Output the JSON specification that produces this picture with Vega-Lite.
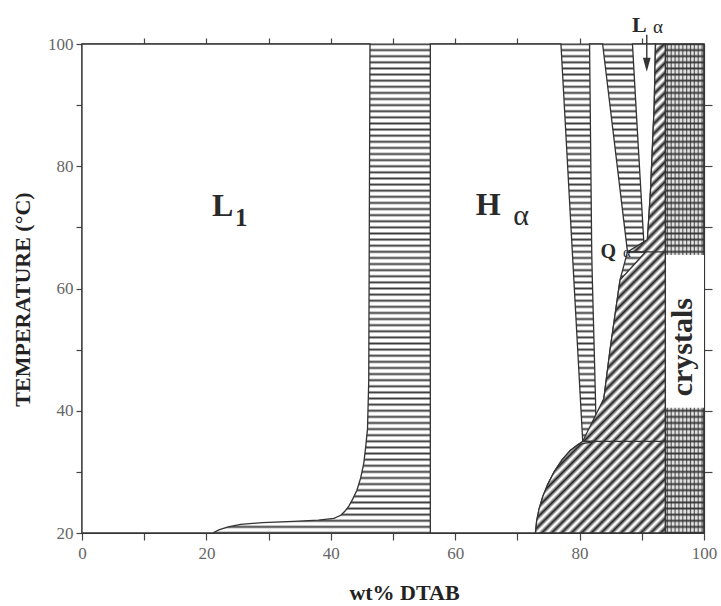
{
"$schema": "https://vega.github.io/schema/vega-lite/v6.json",
"width": 622, "height": 489,
"autosize": {"type": "none"},
"padding": {"left": 82, "top": 44, "right": 17, "bottom": 73},
"background": "white",
"config": {"view": {"stroke": null},
  "axis": {"grid": false, "domainColor": "#444", "tickColor": "#444", "domainWidth": 1.2, "tickWidth": 1.2,
    "labelFont": "Liberation Serif", "labelFontSize": 17, "labelColor": "#666", "labelFlush": false, "labelOverlap": false,
    "titleFont": "Liberation Serif", "titleColor": "#222", "titleFontWeight": "bold"}},
"resolve": {"axis": {"x": "independent", "y": "independent"}},
"datasets": {
 "white": [
  {"r":"L1","t":20,"a":0,"b":21.0},{"r":"L1","t":20.5,"a":0,"b":22.0},{"r":"L1","t":21.0,"a":0,"b":23.5},
  {"r":"L1","t":21.4,"a":0,"b":25.5},{"r":"L1","t":21.7,"a":0,"b":29.0},{"r":"L1","t":21.9,"a":0,"b":34.0},
  {"r":"L1","t":22.1,"a":0,"b":38.0},{"r":"L1","t":22.4,"a":0,"b":40.5},{"r":"L1","t":22.9,"a":0,"b":41.6},
  {"r":"L1","t":23.6,"a":0,"b":42.3},{"r":"L1","t":24.4,"a":0,"b":42.9},{"r":"L1","t":25.5,"a":0,"b":43.5},
  {"r":"L1","t":27.0,"a":0,"b":44.2},{"r":"L1","t":29.0,"a":0,"b":44.8},{"r":"L1","t":31.4,"a":0,"b":45.3},
  {"r":"L1","t":34.0,"a":0,"b":45.6},{"r":"L1","t":37.0,"a":0,"b":45.9},{"r":"L1","t":45.0,"a":0,"b":46.1},
  {"r":"L1","t":100,"a":0,"b":46.3},
  {"r":"H","t":20,"a":56,"b":72.9},{"r":"H","t":22,"a":56,"b":73.1},{"r":"H","t":24,"a":56,"b":73.5},
  {"r":"H","t":26,"a":56,"b":74.1},{"r":"H","t":28,"a":56,"b":74.9},{"r":"H","t":30,"a":56,"b":75.9},
  {"r":"H","t":32,"a":56,"b":77.2},{"r":"H","t":33.5,"a":56,"b":78.5},{"r":"H","t":34.5,"a":56,"b":79.8},
  {"r":"H","t":35,"a":56,"b":80.5},{"r":"H","t":100,"a":56,"b":77.0},
  {"r":"W","t":35,"a":82.7,"b":82.7},{"r":"W","t":42,"a":82.55,"b":83.9},{"r":"W","t":50,"a":82.35,"b":84.9},
  {"r":"W","t":61.4,"a":82.05,"b":86.5},{"r":"W","t":66,"a":81.95,"b":87.7},{"r":"W","t":100,"a":81.6,"b":83.7},
  {"r":"G","t":66,"a":90.4,"b":90.6},{"r":"G","t":68,"a":90.3,"b":90.9},{"r":"G","t":76,"a":89.85,"b":91.4},
  {"r":"G","t":90,"a":89.05,"b":92.0},{"r":"G","t":100,"a":88.5,"b":92.2}
 ],
 "diag": [
  {"t":20,"a":72.9,"b":93.8},{"t":22,"a":73.1,"b":93.8},{"t":24,"a":73.5,"b":93.8},{"t":26,"a":74.1,"b":93.8},
  {"t":28,"a":74.9,"b":93.8},{"t":30,"a":75.9,"b":93.8},{"t":32,"a":77.2,"b":93.8},{"t":33.5,"a":78.5,"b":93.8},
  {"t":34.5,"a":79.8,"b":93.8},{"t":35,"a":80.5,"b":93.8},{"t":35,"a":82.7,"b":93.8},{"t":42,"a":83.9,"b":93.8},
  {"t":50,"a":84.9,"b":93.8},{"t":61.4,"a":86.5,"b":93.8},{"t":66,"a":87.7,"b":93.8},{"t":66,"a":90.6,"b":93.8},
  {"t":68,"a":90.9,"b":93.8},{"t":76,"a":91.4,"b":93.8},{"t":90,"a":92.0,"b":93.8},{"t":100,"a":92.2,"b":93.8}
 ]
},
"layer": [
 {"data": {"values": [{"a": 0, "b": 100, "t0": 20, "t1": 100}]},
  "mark": {"type": "rect", "stroke": "#333", "strokeWidth": 1.2,
   "fill": {"gradient": "linear", "x1": 0, "y1": 0, "x2": 0, "y2": 1, "stops": [
{"offset":0,"color":"#3a3a3a"},{"offset":0.004,"color":"#fff"},
{"offset":0.0085,"color":"#fff"},{"offset":0.0125,"color":"#3a3a3a"},{"offset":0.0165,"color":"#fff"},
{"offset":0.021,"color":"#fff"},{"offset":0.025,"color":"#3a3a3a"},{"offset":0.029,"color":"#fff"},
{"offset":0.0335,"color":"#fff"},{"offset":0.0375,"color":"#3a3a3a"},{"offset":0.0415,"color":"#fff"},
{"offset":0.046,"color":"#fff"},{"offset":0.05,"color":"#3a3a3a"},{"offset":0.054,"color":"#fff"},
{"offset":0.0585,"color":"#fff"},{"offset":0.0625,"color":"#3a3a3a"},{"offset":0.0665,"color":"#fff"},
{"offset":0.071,"color":"#fff"},{"offset":0.075,"color":"#3a3a3a"},{"offset":0.079,"color":"#fff"},
{"offset":0.0835,"color":"#fff"},{"offset":0.0875,"color":"#3a3a3a"},{"offset":0.0915,"color":"#fff"},
{"offset":0.096,"color":"#fff"},{"offset":0.1,"color":"#3a3a3a"},{"offset":0.104,"color":"#fff"},
{"offset":0.1085,"color":"#fff"},{"offset":0.1125,"color":"#3a3a3a"},{"offset":0.1165,"color":"#fff"},
{"offset":0.121,"color":"#fff"},{"offset":0.125,"color":"#3a3a3a"},{"offset":0.129,"color":"#fff"},
{"offset":0.1335,"color":"#fff"},{"offset":0.1375,"color":"#3a3a3a"},{"offset":0.1415,"color":"#fff"},
{"offset":0.146,"color":"#fff"},{"offset":0.15,"color":"#3a3a3a"},{"offset":0.154,"color":"#fff"},
{"offset":0.1585,"color":"#fff"},{"offset":0.1625,"color":"#3a3a3a"},{"offset":0.1665,"color":"#fff"},
{"offset":0.171,"color":"#fff"},{"offset":0.175,"color":"#3a3a3a"},{"offset":0.179,"color":"#fff"},
{"offset":0.1835,"color":"#fff"},{"offset":0.1875,"color":"#3a3a3a"},{"offset":0.1915,"color":"#fff"},
{"offset":0.196,"color":"#fff"},{"offset":0.2,"color":"#3a3a3a"},{"offset":0.204,"color":"#fff"},
{"offset":0.2085,"color":"#fff"},{"offset":0.2125,"color":"#3a3a3a"},{"offset":0.2165,"color":"#fff"},
{"offset":0.221,"color":"#fff"},{"offset":0.225,"color":"#3a3a3a"},{"offset":0.229,"color":"#fff"},
{"offset":0.2335,"color":"#fff"},{"offset":0.2375,"color":"#3a3a3a"},{"offset":0.2415,"color":"#fff"},
{"offset":0.246,"color":"#fff"},{"offset":0.25,"color":"#3a3a3a"},{"offset":0.254,"color":"#fff"},
{"offset":0.2585,"color":"#fff"},{"offset":0.2625,"color":"#3a3a3a"},{"offset":0.2665,"color":"#fff"},
{"offset":0.271,"color":"#fff"},{"offset":0.275,"color":"#3a3a3a"},{"offset":0.279,"color":"#fff"},
{"offset":0.2835,"color":"#fff"},{"offset":0.2875,"color":"#3a3a3a"},{"offset":0.2915,"color":"#fff"},
{"offset":0.296,"color":"#fff"},{"offset":0.3,"color":"#3a3a3a"},{"offset":0.304,"color":"#fff"},
{"offset":0.3085,"color":"#fff"},{"offset":0.3125,"color":"#3a3a3a"},{"offset":0.3165,"color":"#fff"},
{"offset":0.321,"color":"#fff"},{"offset":0.325,"color":"#3a3a3a"},{"offset":0.329,"color":"#fff"},
{"offset":0.3335,"color":"#fff"},{"offset":0.3375,"color":"#3a3a3a"},{"offset":0.3415,"color":"#fff"},
{"offset":0.346,"color":"#fff"},{"offset":0.35,"color":"#3a3a3a"},{"offset":0.354,"color":"#fff"},
{"offset":0.3585,"color":"#fff"},{"offset":0.3625,"color":"#3a3a3a"},{"offset":0.3665,"color":"#fff"},
{"offset":0.371,"color":"#fff"},{"offset":0.375,"color":"#3a3a3a"},{"offset":0.379,"color":"#fff"},
{"offset":0.3835,"color":"#fff"},{"offset":0.3875,"color":"#3a3a3a"},{"offset":0.3915,"color":"#fff"},
{"offset":0.396,"color":"#fff"},{"offset":0.4,"color":"#3a3a3a"},{"offset":0.404,"color":"#fff"},
{"offset":0.4085,"color":"#fff"},{"offset":0.4125,"color":"#3a3a3a"},{"offset":0.4165,"color":"#fff"},
{"offset":0.421,"color":"#fff"},{"offset":0.425,"color":"#3a3a3a"},{"offset":0.429,"color":"#fff"},
{"offset":0.4335,"color":"#fff"},{"offset":0.4375,"color":"#3a3a3a"},{"offset":0.4415,"color":"#fff"},
{"offset":0.446,"color":"#fff"},{"offset":0.45,"color":"#3a3a3a"},{"offset":0.454,"color":"#fff"},
{"offset":0.4585,"color":"#fff"},{"offset":0.4625,"color":"#3a3a3a"},{"offset":0.4665,"color":"#fff"},
{"offset":0.471,"color":"#fff"},{"offset":0.475,"color":"#3a3a3a"},{"offset":0.479,"color":"#fff"},
{"offset":0.4835,"color":"#fff"},{"offset":0.4875,"color":"#3a3a3a"},{"offset":0.4915,"color":"#fff"},
{"offset":0.496,"color":"#fff"},{"offset":0.5,"color":"#3a3a3a"},{"offset":0.504,"color":"#fff"},
{"offset":0.5085,"color":"#fff"},{"offset":0.5125,"color":"#3a3a3a"},{"offset":0.5165,"color":"#fff"},
{"offset":0.521,"color":"#fff"},{"offset":0.525,"color":"#3a3a3a"},{"offset":0.529,"color":"#fff"},
{"offset":0.5335,"color":"#fff"},{"offset":0.5375,"color":"#3a3a3a"},{"offset":0.5415,"color":"#fff"},
{"offset":0.546,"color":"#fff"},{"offset":0.55,"color":"#3a3a3a"},{"offset":0.554,"color":"#fff"},
{"offset":0.5585,"color":"#fff"},{"offset":0.5625,"color":"#3a3a3a"},{"offset":0.5665,"color":"#fff"},
{"offset":0.571,"color":"#fff"},{"offset":0.575,"color":"#3a3a3a"},{"offset":0.579,"color":"#fff"},
{"offset":0.5835,"color":"#fff"},{"offset":0.5875,"color":"#3a3a3a"},{"offset":0.5915,"color":"#fff"},
{"offset":0.596,"color":"#fff"},{"offset":0.6,"color":"#3a3a3a"},{"offset":0.604,"color":"#fff"},
{"offset":0.6085,"color":"#fff"},{"offset":0.6125,"color":"#3a3a3a"},{"offset":0.6165,"color":"#fff"},
{"offset":0.621,"color":"#fff"},{"offset":0.625,"color":"#3a3a3a"},{"offset":0.629,"color":"#fff"},
{"offset":0.6335,"color":"#fff"},{"offset":0.6375,"color":"#3a3a3a"},{"offset":0.6415,"color":"#fff"},
{"offset":0.646,"color":"#fff"},{"offset":0.65,"color":"#3a3a3a"},{"offset":0.654,"color":"#fff"},
{"offset":0.6585,"color":"#fff"},{"offset":0.6625,"color":"#3a3a3a"},{"offset":0.6665,"color":"#fff"},
{"offset":0.671,"color":"#fff"},{"offset":0.675,"color":"#3a3a3a"},{"offset":0.679,"color":"#fff"},
{"offset":0.6835,"color":"#fff"},{"offset":0.6875,"color":"#3a3a3a"},{"offset":0.6915,"color":"#fff"},
{"offset":0.696,"color":"#fff"},{"offset":0.7,"color":"#3a3a3a"},{"offset":0.704,"color":"#fff"},
{"offset":0.7085,"color":"#fff"},{"offset":0.7125,"color":"#3a3a3a"},{"offset":0.7165,"color":"#fff"},
{"offset":0.721,"color":"#fff"},{"offset":0.725,"color":"#3a3a3a"},{"offset":0.729,"color":"#fff"},
{"offset":0.7335,"color":"#fff"},{"offset":0.7375,"color":"#3a3a3a"},{"offset":0.7415,"color":"#fff"},
{"offset":0.746,"color":"#fff"},{"offset":0.75,"color":"#3a3a3a"},{"offset":0.754,"color":"#fff"},
{"offset":0.7585,"color":"#fff"},{"offset":0.7625,"color":"#3a3a3a"},{"offset":0.7665,"color":"#fff"},
{"offset":0.771,"color":"#fff"},{"offset":0.775,"color":"#3a3a3a"},{"offset":0.779,"color":"#fff"},
{"offset":0.7835,"color":"#fff"},{"offset":0.7875,"color":"#3a3a3a"},{"offset":0.7915,"color":"#fff"},
{"offset":0.796,"color":"#fff"},{"offset":0.8,"color":"#3a3a3a"},{"offset":0.804,"color":"#fff"},
{"offset":0.8085,"color":"#fff"},{"offset":0.8125,"color":"#3a3a3a"},{"offset":0.8165,"color":"#fff"},
{"offset":0.821,"color":"#fff"},{"offset":0.825,"color":"#3a3a3a"},{"offset":0.829,"color":"#fff"},
{"offset":0.8335,"color":"#fff"},{"offset":0.8375,"color":"#3a3a3a"},{"offset":0.8415,"color":"#fff"},
{"offset":0.846,"color":"#fff"},{"offset":0.85,"color":"#3a3a3a"},{"offset":0.854,"color":"#fff"},
{"offset":0.8585,"color":"#fff"},{"offset":0.8625,"color":"#3a3a3a"},{"offset":0.8665,"color":"#fff"},
{"offset":0.871,"color":"#fff"},{"offset":0.875,"color":"#3a3a3a"},{"offset":0.879,"color":"#fff"},
{"offset":0.8835,"color":"#fff"},{"offset":0.8875,"color":"#3a3a3a"},{"offset":0.8915,"color":"#fff"},
{"offset":0.896,"color":"#fff"},{"offset":0.9,"color":"#3a3a3a"},{"offset":0.904,"color":"#fff"},
{"offset":0.9085,"color":"#fff"},{"offset":0.9125,"color":"#3a3a3a"},{"offset":0.9165,"color":"#fff"},
{"offset":0.921,"color":"#fff"},{"offset":0.925,"color":"#3a3a3a"},{"offset":0.929,"color":"#fff"},
{"offset":0.9335,"color":"#fff"},{"offset":0.9375,"color":"#3a3a3a"},{"offset":0.9415,"color":"#fff"},
{"offset":0.946,"color":"#fff"},{"offset":0.95,"color":"#3a3a3a"},{"offset":0.954,"color":"#fff"},
{"offset":0.9585,"color":"#fff"},{"offset":0.9625,"color":"#3a3a3a"},{"offset":0.9665,"color":"#fff"},
{"offset":0.971,"color":"#fff"},{"offset":0.975,"color":"#3a3a3a"},{"offset":0.979,"color":"#fff"},
{"offset":0.9835,"color":"#fff"},{"offset":0.9875,"color":"#3a3a3a"},{"offset":0.9915,"color":"#fff"},
{"offset":0.996,"color":"#fff"},{"offset":1,"color":"#3a3a3a"}
   ]}},
  "encoding": {
   "x": {"field": "a", "type": "quantitative", "scale": {"domain": [0, 100], "nice": false, "zero": false},
     "axis": {"orient": "bottom", "values": [0,10,20,30,40,50,60,70,80,90,100],
       "labelExpr": "datum.value % 20 === 0 ? datum.label : ''", "tickSize": 7, "labelPadding": 5,
       "title": "wt% DTAB", "titleFontSize": 22, "titleX": 322, "titleY": 66, "titleBaseline": "alphabetic", "titleAlign": "center"}},
   "x2": {"field": "b"},
   "y": {"field": "t0", "type": "quantitative", "scale": {"domain": [20, 100], "nice": false, "zero": false},
     "axis": {"orient": "left", "values": [20,30,40,50,60,70,80,90,100],
       "labelExpr": "datum.value % 20 === 0 ? datum.label : ''", "tickSize": 6, "labelPadding": 3,
       "title": "TEMPERATURE (°C)", "titleFontSize": 22, "titleX": -60, "titleY": 255, "titleAngle": 270,
       "titleAlign": "center", "titleBaseline": "middle"}},
   "y2": {"field": "t1"}}},

 {"data": {"name": "white"},
  "mark": {"type": "area", "orient": "horizontal", "fill": "#fff", "stroke": "#333", "strokeWidth": 1.3},
  "encoding": {
   "y": {"field": "t", "type": "quantitative", "axis": null},
   "x": {"field": "b", "type": "quantitative", "axis": null, "stack": null},
   "x2": {"field": "a"},
   "detail": {"field": "r"}}},

 {"data": {"name": "diag"},
  "mark": {"type": "area", "orient": "horizontal", "stroke": "#333", "strokeWidth": 1.3,
   "fill": {"gradient": "linear", "x1": 0, "y1": 0, "x2": 0.3143, "y2": 1.1823, "stops": [
{"offset":0,"color":"#222"},{"offset":0.007,"color":"#fff"},
{"offset":0.009,"color":"#fff"},{"offset":0.016,"color":"#222"},{"offset":0.023,"color":"#fff"},
{"offset":0.025,"color":"#fff"},{"offset":0.032,"color":"#222"},{"offset":0.039,"color":"#fff"},
{"offset":0.041,"color":"#fff"},{"offset":0.048,"color":"#222"},{"offset":0.055,"color":"#fff"},
{"offset":0.057,"color":"#fff"},{"offset":0.064,"color":"#222"},{"offset":0.071,"color":"#fff"},
{"offset":0.073,"color":"#fff"},{"offset":0.08,"color":"#222"},{"offset":0.087,"color":"#fff"},
{"offset":0.089,"color":"#fff"},{"offset":0.096,"color":"#222"},{"offset":0.103,"color":"#fff"},
{"offset":0.105,"color":"#fff"},{"offset":0.112,"color":"#222"},{"offset":0.119,"color":"#fff"},
{"offset":0.121,"color":"#fff"},{"offset":0.128,"color":"#222"},{"offset":0.135,"color":"#fff"},
{"offset":0.137,"color":"#fff"},{"offset":0.144,"color":"#222"},{"offset":0.151,"color":"#fff"},
{"offset":0.153,"color":"#fff"},{"offset":0.16,"color":"#222"},{"offset":0.167,"color":"#fff"},
{"offset":0.169,"color":"#fff"},{"offset":0.176,"color":"#222"},{"offset":0.183,"color":"#fff"},
{"offset":0.185,"color":"#fff"},{"offset":0.192,"color":"#222"},{"offset":0.199,"color":"#fff"},
{"offset":0.201,"color":"#fff"},{"offset":0.208,"color":"#222"},{"offset":0.215,"color":"#fff"},
{"offset":0.217,"color":"#fff"},{"offset":0.224,"color":"#222"},{"offset":0.231,"color":"#fff"},
{"offset":0.233,"color":"#fff"},{"offset":0.24,"color":"#222"},{"offset":0.247,"color":"#fff"},
{"offset":0.249,"color":"#fff"},{"offset":0.256,"color":"#222"},{"offset":0.263,"color":"#fff"},
{"offset":0.265,"color":"#fff"},{"offset":0.272,"color":"#222"},{"offset":0.279,"color":"#fff"},
{"offset":0.281,"color":"#fff"},{"offset":0.288,"color":"#222"},{"offset":0.295,"color":"#fff"},
{"offset":0.297,"color":"#fff"},{"offset":0.304,"color":"#222"},{"offset":0.311,"color":"#fff"},
{"offset":0.313,"color":"#fff"},{"offset":0.32,"color":"#222"},{"offset":0.327,"color":"#fff"},
{"offset":0.329,"color":"#fff"},{"offset":0.336,"color":"#222"},{"offset":0.343,"color":"#fff"},
{"offset":0.345,"color":"#fff"},{"offset":0.352,"color":"#222"},{"offset":0.359,"color":"#fff"},
{"offset":0.361,"color":"#fff"},{"offset":0.368,"color":"#222"},{"offset":0.375,"color":"#fff"},
{"offset":0.377,"color":"#fff"},{"offset":0.384,"color":"#222"},{"offset":0.391,"color":"#fff"},
{"offset":0.393,"color":"#fff"},{"offset":0.4,"color":"#222"},{"offset":0.407,"color":"#fff"},
{"offset":0.409,"color":"#fff"},{"offset":0.416,"color":"#222"},{"offset":0.423,"color":"#fff"},
{"offset":0.425,"color":"#fff"},{"offset":0.432,"color":"#222"},{"offset":0.439,"color":"#fff"},
{"offset":0.441,"color":"#fff"},{"offset":0.448,"color":"#222"},{"offset":0.455,"color":"#fff"},
{"offset":0.457,"color":"#fff"},{"offset":0.464,"color":"#222"},{"offset":0.471,"color":"#fff"},
{"offset":0.473,"color":"#fff"},{"offset":0.48,"color":"#222"},{"offset":0.487,"color":"#fff"},
{"offset":0.489,"color":"#fff"},{"offset":0.496,"color":"#222"},{"offset":0.503,"color":"#fff"},
{"offset":0.505,"color":"#fff"},{"offset":0.512,"color":"#222"},{"offset":0.519,"color":"#fff"},
{"offset":0.521,"color":"#fff"},{"offset":0.528,"color":"#222"},{"offset":0.535,"color":"#fff"},
{"offset":0.537,"color":"#fff"},{"offset":0.544,"color":"#222"},{"offset":0.551,"color":"#fff"},
{"offset":0.553,"color":"#fff"},{"offset":0.56,"color":"#222"},{"offset":0.567,"color":"#fff"},
{"offset":0.569,"color":"#fff"},{"offset":0.576,"color":"#222"},{"offset":0.583,"color":"#fff"},
{"offset":0.585,"color":"#fff"},{"offset":0.592,"color":"#222"},{"offset":0.599,"color":"#fff"},
{"offset":0.601,"color":"#fff"},{"offset":0.608,"color":"#222"},{"offset":0.615,"color":"#fff"},
{"offset":0.617,"color":"#fff"},{"offset":0.624,"color":"#222"},{"offset":0.631,"color":"#fff"},
{"offset":0.633,"color":"#fff"},{"offset":0.64,"color":"#222"},{"offset":0.647,"color":"#fff"},
{"offset":0.649,"color":"#fff"},{"offset":0.656,"color":"#222"},{"offset":0.663,"color":"#fff"},
{"offset":0.665,"color":"#fff"},{"offset":0.672,"color":"#222"},{"offset":0.679,"color":"#fff"},
{"offset":0.681,"color":"#fff"},{"offset":0.688,"color":"#222"},{"offset":0.695,"color":"#fff"},
{"offset":0.697,"color":"#fff"},{"offset":0.704,"color":"#222"},{"offset":0.711,"color":"#fff"},
{"offset":0.713,"color":"#fff"},{"offset":0.72,"color":"#222"},{"offset":0.727,"color":"#fff"},
{"offset":0.729,"color":"#fff"},{"offset":0.736,"color":"#222"},{"offset":0.743,"color":"#fff"},
{"offset":0.745,"color":"#fff"},{"offset":0.752,"color":"#222"},{"offset":0.759,"color":"#fff"},
{"offset":0.761,"color":"#fff"},{"offset":0.768,"color":"#222"},{"offset":0.775,"color":"#fff"},
{"offset":0.777,"color":"#fff"},{"offset":0.784,"color":"#222"},{"offset":0.791,"color":"#fff"},
{"offset":0.793,"color":"#fff"},{"offset":0.8,"color":"#222"},{"offset":0.807,"color":"#fff"},
{"offset":0.809,"color":"#fff"},{"offset":0.816,"color":"#222"},{"offset":0.823,"color":"#fff"},
{"offset":0.825,"color":"#fff"},{"offset":0.832,"color":"#222"},{"offset":0.839,"color":"#fff"},
{"offset":0.841,"color":"#fff"},{"offset":0.848,"color":"#222"},{"offset":0.855,"color":"#fff"},
{"offset":0.857,"color":"#fff"},{"offset":0.864,"color":"#222"},{"offset":0.871,"color":"#fff"},
{"offset":0.873,"color":"#fff"},{"offset":0.88,"color":"#222"},{"offset":0.887,"color":"#fff"},
{"offset":0.889,"color":"#fff"},{"offset":0.896,"color":"#222"},{"offset":0.903,"color":"#fff"},
{"offset":0.905,"color":"#fff"},{"offset":0.912,"color":"#222"},{"offset":0.919,"color":"#fff"},
{"offset":0.921,"color":"#fff"},{"offset":0.928,"color":"#222"},{"offset":0.935,"color":"#fff"},
{"offset":0.937,"color":"#fff"},{"offset":0.944,"color":"#222"},{"offset":0.951,"color":"#fff"},
{"offset":0.953,"color":"#fff"},{"offset":0.96,"color":"#222"},{"offset":0.967,"color":"#fff"},
{"offset":0.969,"color":"#fff"},{"offset":0.976,"color":"#222"},{"offset":0.983,"color":"#fff"},
{"offset":0.985,"color":"#fff"},{"offset":0.992,"color":"#222"},{"offset":0.999,"color":"#fff"},
{"offset":1,"color":"#fff"}
   ]}},
  "encoding": {
   "y": {"field": "t", "type": "quantitative", "axis": null},
   "x": {"field": "a", "type": "quantitative", "axis": null, "stack": null},
   "x2": {"field": "b"}}},

 {"data": {"values": [{"t": 35, "a": 80.5, "b": 93.8}, {"t": 66, "a": 87.7, "b": 93.8}]},
  "mark": {"type": "rule", "color": "#333", "strokeWidth": 1.3},
  "encoding": {
   "y": {"field": "t", "type": "quantitative", "axis": null},
   "x": {"field": "a", "type": "quantitative", "axis": null},
   "x2": {"field": "b"}}},

 {"data": {"values": [{"a": 93.8, "b": 100, "t0": 20, "t1": 100}]},
  "mark": {"type": "rect", "stroke": "#333", "strokeWidth": 1.3,
   "fill": {"gradient": "linear", "x1": 0, "y1": 0, "x2": 1, "y2": 0, "stops": [
{"offset":0,"color":"rgba(60,60,60,0.15)"},
{"offset":0.02,"color":"rgba(60,60,60,0.15)"},{"offset":0.05,"color":"rgba(40,40,40,0.8)"},{"offset":0.08,"color":"rgba(60,60,60,0.15)"},
{"offset":0.12,"color":"rgba(60,60,60,0.15)"},{"offset":0.15,"color":"rgba(40,40,40,0.8)"},{"offset":0.18,"color":"rgba(60,60,60,0.15)"},
{"offset":0.22,"color":"rgba(60,60,60,0.15)"},{"offset":0.25,"color":"rgba(40,40,40,0.8)"},{"offset":0.28,"color":"rgba(60,60,60,0.15)"},
{"offset":0.32,"color":"rgba(60,60,60,0.15)"},{"offset":0.35,"color":"rgba(40,40,40,0.8)"},{"offset":0.38,"color":"rgba(60,60,60,0.15)"},
{"offset":0.42,"color":"rgba(60,60,60,0.15)"},{"offset":0.45,"color":"rgba(40,40,40,0.8)"},{"offset":0.48,"color":"rgba(60,60,60,0.15)"},
{"offset":0.52,"color":"rgba(60,60,60,0.15)"},{"offset":0.55,"color":"rgba(40,40,40,0.8)"},{"offset":0.58,"color":"rgba(60,60,60,0.15)"},
{"offset":0.62,"color":"rgba(60,60,60,0.15)"},{"offset":0.65,"color":"rgba(40,40,40,0.8)"},{"offset":0.68,"color":"rgba(60,60,60,0.15)"},
{"offset":0.72,"color":"rgba(60,60,60,0.15)"},{"offset":0.75,"color":"rgba(40,40,40,0.8)"},{"offset":0.78,"color":"rgba(60,60,60,0.15)"},
{"offset":0.82,"color":"rgba(60,60,60,0.15)"},{"offset":0.85,"color":"rgba(40,40,40,0.8)"},{"offset":0.88,"color":"rgba(60,60,60,0.15)"},
{"offset":0.92,"color":"rgba(60,60,60,0.15)"},{"offset":0.95,"color":"rgba(40,40,40,0.8)"},{"offset":0.98,"color":"rgba(60,60,60,0.15)"},
{"offset":1,"color":"rgba(60,60,60,0.15)"}
   ]}},
  "encoding": {
   "x": {"field": "a", "type": "quantitative",
     "axis": {"orient": "top", "values": [10,20,30,40,50,60,70,80,90], "labels": false, "tickSize": 6, "title": null}},
   "x2": {"field": "b"},
   "y": {"field": "t0", "type": "quantitative",
     "axis": {"orient": "right", "values": [30,40,50,60,70,80,90], "labels": false, "tickSize": 8, "title": null}},
   "y2": {"field": "t1"}}},

 {"data": {"values": [{"a": 93.9, "b": 100, "t0": 40.5, "t1": 65.5}]},
  "mark": {"type": "rect", "fill": "#fff"},
  "encoding": {
   "x": {"field": "a", "type": "quantitative", "axis": null},
   "x2": {"field": "b"},
   "y": {"field": "t0", "type": "quantitative", "axis": null},
   "y2": {"field": "t1"}}},

 {"data": {"values": [{"x": 90.8, "t0": 101.5, "t1": 97.5}]},
  "mark": {"type": "rule", "color": "#333", "strokeWidth": 1.4},
  "encoding": {
   "x": {"field": "x", "type": "quantitative", "axis": null},
   "y": {"field": "t0", "type": "quantitative", "axis": null},
   "y2": {"field": "t1"}}},

 {"data": {"values": [{"x": 90.8, "t": 96.6}]},
  "mark": {"type": "point", "shape": "M-0.55,-1L0,1L0.55,-1Z", "size": 196, "filled": true, "color": "#333", "opacity": 1},
  "encoding": {
   "x": {"field": "x", "type": "quantitative", "axis": null},
   "y": {"field": "t", "type": "quantitative", "axis": null}}},

 {"data": {"values": [{"x": 22.6, "t": 71.9, "s": "L"}, {"x": 65.3, "t": 72.0, "s": "H"}]},
  "mark": {"type": "text", "font": "Liberation Serif", "fontWeight": "bold", "fontSize": 32, "color": "#2a2a2a", "align": "center", "baseline": "alphabetic"},
  "encoding": {"x": {"field": "x", "type": "quantitative", "axis": null}, "y": {"field": "t", "type": "quantitative", "axis": null}, "text": {"field": "s"}}},

 {"data": {"values": [{"x": 25.6, "t": 70.2, "s": "1"}]},
  "mark": {"type": "text", "font": "Liberation Serif", "fontWeight": "bold", "fontSize": 25, "color": "#2a2a2a", "align": "center", "baseline": "alphabetic"},
  "encoding": {"x": {"field": "x", "type": "quantitative", "axis": null}, "y": {"field": "t", "type": "quantitative", "axis": null}, "text": {"field": "s"}}},

 {"data": {"values": [{"x": 70.6, "t": 70.4, "s": "α"}]},
  "mark": {"type": "text", "font": "Liberation Serif", "fontSize": 30, "color": "#2a2a2a", "align": "center", "baseline": "alphabetic"},
  "encoding": {"x": {"field": "x", "type": "quantitative", "axis": null}, "y": {"field": "t", "type": "quantitative", "axis": null}, "text": {"field": "s"}}},

 {"data": {"values": [{"x": 84.6, "t": 65.0, "s": "Q"}]},
  "mark": {"type": "text", "font": "Liberation Serif", "fontWeight": "bold", "fontSize": 20, "color": "#2a2a2a", "align": "center", "baseline": "alphabetic"},
  "encoding": {"x": {"field": "x", "type": "quantitative", "axis": null}, "y": {"field": "t", "type": "quantitative", "axis": null}, "text": {"field": "s"}}},

 {"data": {"values": [{"x": 87.6, "t": 65.1, "s": "α"}]},
  "mark": {"type": "text", "font": "Liberation Serif", "fontSize": 15, "color": "#2a2a2a", "align": "center", "baseline": "alphabetic"},
  "encoding": {"x": {"field": "x", "type": "quantitative", "axis": null}, "y": {"field": "t", "type": "quantitative", "axis": null}, "text": {"field": "s"}}},

 {"data": {"values": [{"x": 89.6, "t": 102.0, "s": "L"}]},
  "mark": {"type": "text", "font": "Liberation Serif", "fontWeight": "bold", "fontSize": 22, "color": "#2a2a2a", "align": "center", "baseline": "alphabetic"},
  "encoding": {"x": {"field": "x", "type": "quantitative", "axis": null}, "y": {"field": "t", "type": "quantitative", "axis": null}, "text": {"field": "s"}}},

 {"data": {"values": [{"x": 92.6, "t": 101.8, "s": "α"}]},
  "mark": {"type": "text", "font": "Liberation Serif", "fontSize": 19, "color": "#2a2a2a", "align": "center", "baseline": "alphabetic"},
  "encoding": {"x": {"field": "x", "type": "quantitative", "axis": null}, "y": {"field": "t", "type": "quantitative", "axis": null}, "text": {"field": "s"}}},

 {"data": {"values": [{"x": 98.0, "t": 50.4, "s": "crystals"}]},
  "mark": {"type": "text", "font": "Liberation Serif", "fontWeight": "bold", "fontSize": 30, "color": "#2a2a2a", "align": "center", "baseline": "alphabetic", "angle": 270},
  "encoding": {"x": {"field": "x", "type": "quantitative", "axis": null}, "y": {"field": "t", "type": "quantitative", "axis": null}, "text": {"field": "s"}}}
]
}
